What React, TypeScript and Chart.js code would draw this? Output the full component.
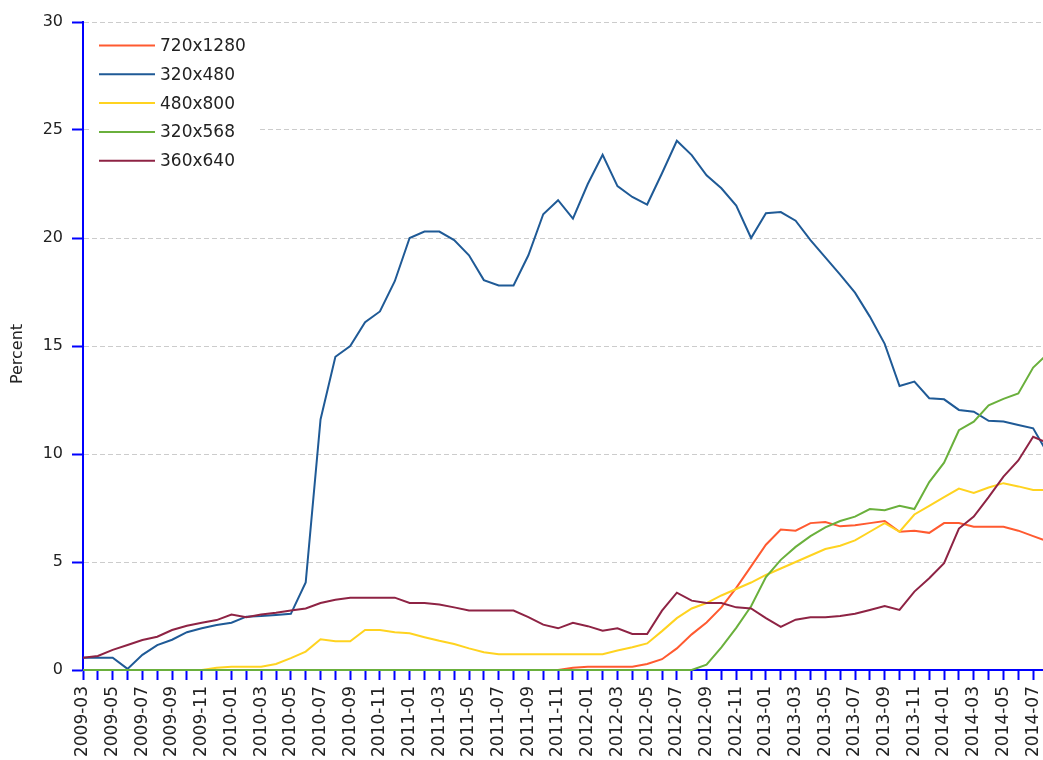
import React, { useEffect, useRef } from "react";
import { Chart, registerables } from "chart.js";

Chart.register(...registerables);

const months: string[] = [
  "2009-03", "2009-04", "2009-05", "2009-06", "2009-07", "2009-08", "2009-09", "2009-10", "2009-11", "2009-12",
  "2010-01", "2010-02", "2010-03", "2010-04", "2010-05", "2010-06", "2010-07", "2010-08", "2010-09", "2010-10", "2010-11", "2010-12",
  "2011-01", "2011-02", "2011-03", "2011-04", "2011-05", "2011-06", "2011-07", "2011-08", "2011-09", "2011-10", "2011-11", "2011-12",
  "2012-01", "2012-02", "2012-03", "2012-04", "2012-05", "2012-06", "2012-07", "2012-08", "2012-09", "2012-10", "2012-11", "2012-12",
  "2013-01", "2013-02", "2013-03", "2013-04", "2013-05", "2013-06", "2013-07", "2013-08", "2013-09", "2013-10", "2013-11", "2013-12",
  "2014-01", "2014-02", "2014-03", "2014-04", "2014-05", "2014-06", "2014-07", "2014-08",
];

const seriesNames: string[] = ["720x1280", "320x480", "480x800", "320x568", "360x640"];
const seriesColors: string[] = ["#ff5a30", "#1f5a96", "#ffd320", "#6ab03c", "#8e2344"];

const res720x1280: number[] = [
  0, 0, 0, 0, 0, 0, 0, 0, 0, 0,
  0, 0, 0, 0, 0, 0, 0, 0, 0, 0, 0, 0,
  0, 0, 0, 0, 0, 0, 0, 0, 0, 0, 0, 0.1,
  0.15, 0.15, 0.15, 0.15, 0.28, 0.5, 1.0, 1.65, 2.2, 2.9, 3.8, 4.8,
  5.8, 6.5, 6.45, 6.8, 6.85, 6.65, 6.7, 6.8, 6.9, 6.4, 6.45, 6.35,
  6.8, 6.8, 6.63, 6.63, 6.63, 6.45, 6.2, 5.95,
];

const res320x480: number[] = [
  0.57, 0.57, 0.57, 0.05, 0.7, 1.15, 1.4, 1.75, 1.93, 2.08,
  2.19, 2.47, 2.5, 2.55, 2.6, 4.05, 11.6, 14.5, 15.0, 16.1, 16.6, 18.0,
  20.0, 20.3, 20.3, 19.9, 19.2, 18.05, 17.8, 17.8, 19.2, 21.1, 21.75, 20.9,
  22.5, 23.85, 22.4, 21.9, 21.55, 23.0, 24.5, 23.84, 22.9, 22.3, 21.5, 20.0,
  21.15, 21.2, 20.8, 19.9, 19.1, 18.3, 17.47, 16.36, 15.1, 13.15, 13.35, 12.58,
  12.53, 12.04, 11.96, 11.54, 11.5, 11.34, 11.19, 10.0,
];

const res480x800: number[] = [
  0, 0, 0, 0, 0, 0, 0, 0, 0, 0.1,
  0.15, 0.15, 0.15, 0.28, 0.55, 0.85, 1.42, 1.33, 1.33, 1.85, 1.85, 1.75,
  1.7, 1.52, 1.35, 1.2, 1.0, 0.82, 0.73, 0.73, 0.73, 0.73, 0.73, 0.73,
  0.73, 0.73, 0.9, 1.05, 1.23, 1.8, 2.4, 2.85, 3.1, 3.45, 3.75, 4.05,
  4.4, 4.7, 5.0, 5.3, 5.6, 5.75, 6.0, 6.4, 6.8, 6.4, 7.2, 7.6,
  8.0, 8.4, 8.2, 8.45, 8.65, 8.5, 8.33, 8.33,
];

const res320x568: number[] = [
  0, 0, 0, 0, 0, 0, 0, 0, 0, 0,
  0, 0, 0, 0, 0, 0, 0, 0, 0, 0, 0, 0,
  0, 0, 0, 0, 0, 0, 0, 0, 0, 0, 0, 0,
  0, 0, 0, 0, 0, 0, 0, 0, 0.25, 1.05, 1.95, 2.95,
  4.3, 5.1, 5.7, 6.2, 6.6, 6.9, 7.1, 7.45, 7.4, 7.6, 7.45, 8.7,
  9.6, 11.1, 11.5, 12.25, 12.55, 12.8, 14.0, 14.65, 13.6,
];

const res360x640: number[] = [
  0.57, 0.65, 0.93, 1.16, 1.39, 1.54, 1.85, 2.05, 2.19, 2.31,
  2.57, 2.44, 2.57, 2.65, 2.75, 2.85, 3.1, 3.25, 3.35, 3.35, 3.35, 3.35,
  3.1, 3.1, 3.03, 2.9, 2.75, 2.75, 2.75, 2.75, 2.45, 2.1, 1.93, 2.19,
  2.03, 1.82, 1.93, 1.67, 1.67, 2.75, 3.58, 3.21, 3.1, 3.1, 2.9, 2.85,
  2.4, 2.0, 2.33, 2.44, 2.44, 2.5, 2.6, 2.78, 2.96, 2.78, 3.63, 4.25,
  4.95, 6.55, 7.1, 8.0, 8.95, 9.7, 10.8, 10.5,
];

const yTicks: number[] = [0, 5, 10, 15, 20, 25, 30];
const yTitle = "Percent";

const FONT = "'DejaVu Sans', sans-serif";
const TEXT = "#222222";
const AXIS = "#0000ff";

export default function App() {
  const ref = useRef<HTMLCanvasElement | null>(null);

  useEffect(() => {
    const canvas = ref.current;
    if (!canvas) return;
    const allSeries = [res720x1280, res320x480, res480x800, res320x568, res360x640];

    const overlay = {
      id: "overlay",
      afterDraw(chart: any) {
        const ctx = chart.ctx as CanvasRenderingContext2D;
        ctx.save();
        ctx.fillStyle = TEXT;
        ctx.font = `16px ${FONT}`;
        ctx.translate(18, 354);
        ctx.rotate(-Math.PI / 2);
        ctx.textAlign = "center";
        ctx.textBaseline = "middle";
        ctx.fillText(yTitle, 0, 0);
        ctx.restore();

        ctx.save();
        ctx.fillStyle = "#ffffff";
        ctx.fillRect(92, 30, 165, 145);
        ctx.font = `17px ${FONT}`;
        ctx.textAlign = "left";
        ctx.textBaseline = "middle";
        seriesNames.forEach((name, i) => {
          const y = 45.5 + i * 28.8;
          ctx.strokeStyle = seriesColors[i];
          ctx.lineWidth = 2;
          ctx.beginPath();
          ctx.moveTo(99, y);
          ctx.lineTo(155, y);
          ctx.stroke();
          ctx.fillStyle = TEXT;
          ctx.fillText(name, 160, y + 1);
        });
        ctx.restore();
      },
    };

    const chart = new Chart(canvas, {
      type: "line",
      data: {
        labels: months,
        datasets: seriesNames.map((name, i) => ({
          label: name,
          data: allSeries[i],
          borderColor: seriesColors[i],
          backgroundColor: seriesColors[i],
          borderWidth: 2,
          pointRadius: 0,
          tension: 0,
          fill: false,
          clip: false,
          order: 5 - i,
        })),
      },
      options: {
        animation: false,
        responsive: false,
        devicePixelRatio: 1,
        layout: { padding: { left: 0, right: 12, top: 22, bottom: 0 } },
        plugins: {
          legend: { display: false },
          tooltip: { enabled: false },
          title: { display: false },
        },
        scales: {
          x: {
            type: "category",
            offset: false,
            grid: {
              display: true,
              drawOnChartArea: false,
              drawTicks: true,
              tickLength: 10,
              tickColor: AXIS,
              tickWidth: 2,
              color: AXIS,
            },
            border: { display: true, color: AXIS, width: 2 },
            ticks: {
              autoSkip: false,
              maxRotation: 90,
              minRotation: 90,
              padding: 6,
              color: TEXT,
              font: { family: FONT, size: 17 },
              callback: (_v: any, idx: number) => (idx % 2 === 0 ? months[idx] : ""),
            },
            afterFit: (s: any) => {
              s.height = 90;
              s.paddingLeft = 0;
              s.paddingRight = 0;
            },
          },
          y: {
            min: 0,
            max: 30,
            afterBuildTicks: (s: any) => {
              s.ticks = yTicks.map((v) => ({ value: v }));
            },
            grid: {
              display: true,
              drawOnChartArea: true,
              drawTicks: true,
              tickLength: 11,
              tickColor: AXIS,
              tickWidth: 2,
              color: "#cccccc",
              lineWidth: 1,
            },
            border: { display: true, color: AXIS, width: 2, dash: [5, 3] },
            ticks: {
              padding: 9,
              color: TEXT,
              font: { family: FONT, size: 16 },
            },
            afterFit: (s: any) => {
              s.width = 83;
              s.paddingTop = 0;
              s.paddingBottom = 0;
            },
          },
        },
      },
      plugins: [overlay],
    });

    return () => chart.destroy();
  }, []);

  return (
    <div
      style={{
        position: "fixed",
        left: 0,
        top: 0,
        width: 1043,
        height: 760,
        overflow: "hidden",
        background: "#ffffff",
      }}
    >
      <canvas ref={ref} width={1060} height={760} style={{ display: "block", width: 1060, height: 760 }} />
    </div>
  );
}
